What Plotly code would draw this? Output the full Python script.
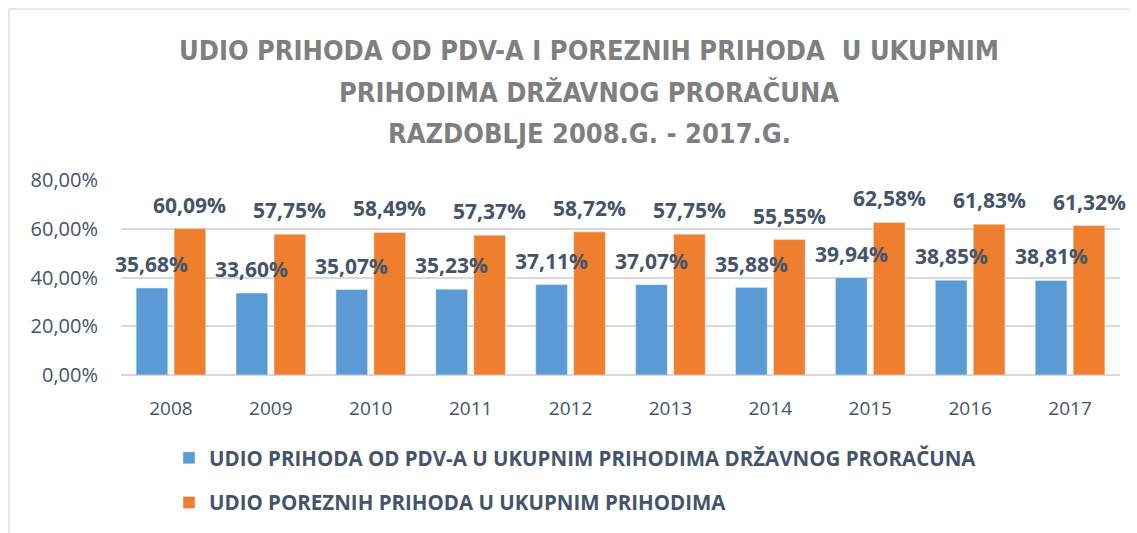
import plotly.graph_objects as go

years = ["2008", "2009", "2010", "2011", "2012", "2013", "2014", "2015", "2016", "2017"]
pdv_share = [35.68, 33.60, 35.07, 35.23, 37.11, 37.07, 35.88, 39.94, 38.85, 38.81]
tax_share = [60.09, 57.75, 58.49, 57.37, 58.72, 57.75, 55.55, 62.58, 61.83, 61.32]
series_names = [
    "UDIO PRIHODA OD PDV-A U UKUPNIM PRIHODIMA DRŽAVNOG PRORAČUNA",
    "UDIO POREZNIH PRIHODA U UKUPNIM PRIHODIMA",
]
y_ticks = [0, 20, 40, 60, 80]
title_lines = [
    "UDIO PRIHODA OD PDV-A I POREZNIH PRIHODA  U UKUPNIM",
    "PRIHODIMA DRŽAVNOG PRORAČUNA",
    "RAZDOBLJE 2008.G. - 2017.G.",
]

BLUE = "#5b9bd5"
ORANGE = "#ef7f2e"
TEXT = "#44546a"
W, H = 1137, 533
OFF = 8  # page body margin: screen = figure + OFF
ML, MR, MT, MB = 113, 25, 172, 166
PW = W - ML - MR
PH = H - MT - MB


def fmt(v):
    return f"{v:.2f}%".replace(".", ",")


def py(screen):
    return (H - MB - (screen - OFF)) / PH


def px(screen):
    return ((screen - OFF) - ML) / PW


fig = go.Figure()
fig.add_trace(go.Bar(x=years, y=pdv_share, name=series_names[0], marker_color=BLUE,
                     legendgroup="a"))
fig.add_trace(go.Bar(x=years, y=tax_share, name=series_names[1], marker_color=ORANGE,
                     legendgroup="b"))

annotations = []
for series, shift in ((pdv_share, -19), (tax_share, 19)):
    for i, v in enumerate(series):
        annotations.append(dict(
            x=i, y=v, xref="x", yref="y", text=fmt(v), showarrow=False,
            xshift=shift, yshift=24, yanchor="middle",
            font=dict(family="Open Sans", size=21, color=TEXT, weight="bold"),
        ))

for line, yc in zip(title_lines, (51, 92, 133)):
    annotations.append(dict(
        x=px(589), y=py(yc), xref="paper", yref="paper", text=line, showarrow=False,
        xanchor="center", yanchor="middle",
        font=dict(family="DejaVu Sans Condensed, Open Sans", size=27,
                  color="#7f7f7f", weight="bold"),
    ))

border = "#dde3e8"
shapes = [
    dict(type="line", xref="paper", yref="paper",
         x0=px(9), x1=px(W + 20), y0=py(9), y1=py(9), line=dict(color=border, width=1.5)),
    dict(type="line", xref="paper", yref="paper",
         x0=px(9), x1=px(9), y0=py(9), y1=py(H + 20), line=dict(color=border, width=1.5)),
]

fig.update_layout(
    width=W, height=H,
    margin=dict(l=ML, r=MR, t=MT, b=MB, autoexpand=False),
    paper_bgcolor="white", plot_bgcolor="white",
    barmode="group", bargap=0.24, bargroupgap=0.166,
    xaxis=dict(
        type="category", range=[-0.5, len(years) - 0.5],
        showgrid=False, showline=False, ticks="",
        tickfont=dict(family="Open Sans", size=19, color=TEXT),
        ticklabelstandoff=20,
    ),
    yaxis=dict(
        range=[0, 80], tickvals=y_ticks, ticktext=[fmt(v) for v in y_ticks],
        showgrid=True, gridcolor="#d9d9d9", gridwidth=1.5,
        zeroline=True, zerolinecolor="#d9d9d9", zerolinewidth=1.5,
        tickfont=dict(family="Open Sans", size=20, color=TEXT),
        ticklabelstandoff=22,
    ),
    legend=dict(
        orientation="v",
        x=px(169), y=py(438), xanchor="left", yanchor="top",
        tracegroupgap=15, traceorder="grouped",
        font=dict(family="Open Sans", size=20.5, color=TEXT, weight="bold"),
    ),
    annotations=annotations,
    shapes=shapes,
)

fig.write_html("out.html")
